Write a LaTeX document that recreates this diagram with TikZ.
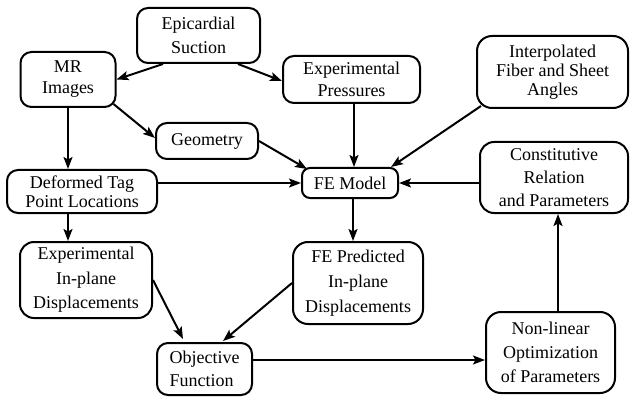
\documentclass[tikz,border=0pt]{standalone}
\usepackage{fontspec}
\setmainfont{Liberation Serif}
\usetikzlibrary{arrows.meta,calc}
\begin{document}
\begin{tikzpicture}[x=1pt,y=-1pt,
  box/.style={draw,line width=2pt,rounded corners=11pt,align=center,inner sep=0pt,font=\fontsize{18}{23}\selectfont},
  arr/.style={line width=2pt,-{Stealth[length=12pt,width=9pt,inset=2.5pt]}}]
\useasboundingbox (0,0) rectangle (631,398);
\node[box,minimum width=123pt,minimum height=55pt,font=\fontsize{18}{24}\selectfont] (epi) at (198.5,35.5) {Epicardial\\Suction};
\node[box,minimum width=95pt,minimum height=55pt,font=\fontsize{18}{21}\selectfont] (mr) at (68,79.5) {MR\\Images};
\node[box,minimum width=137pt,minimum height=47pt,font=\fontsize{18}{22}\selectfont] (pres) at (351.5,79.5) {Experimental\\Pressures};
\node[box,minimum width=102pt,minimum height=36pt] (geo) at (207,141) {Geometry};
\node[box,minimum width=151pt,minimum height=72pt,rounded corners=15pt,font=\fontsize{18}{19}\selectfont] (fib) at (552.5,72) {Interpolated\\Fiber and Sheet\\Angles};
\node[box,minimum width=96pt,minimum height=30pt,rounded corners=8pt] (fe) at (350,183) {FE Model};
\node[box,minimum width=150pt,minimum height=43pt,font=\fontsize{18}{19}\selectfont] (tag) at (82,191.5) {Deformed Tag\\Point Locations};
\node[box,minimum width=148pt,minimum height=71pt,rounded corners=14pt] (con) at (554,177.5) {Constitutive\\Relation\\and Parameters};
\node[box,minimum width=132pt,minimum height=76pt,rounded corners=14pt,font=\fontsize{18}{24.5}\selectfont] (exp) at (86,280) {Experimental\\In-plane\\Displacements};
\node[box,minimum width=130pt,minimum height=82pt,rounded corners=15pt,font=\fontsize{18}{25}\selectfont] (pred) at (358,283) {FE Predicted\\In-plane\\Displacements};
\node[box,minimum width=95pt,minimum height=52pt,align=left] (obj) at (204.5,369) {Objective\\Function};
\node[box,minimum width=129pt,minimum height=81pt,rounded corners=15pt,font=\fontsize{18}{24}\selectfont] (opt) at (550.5,352.5) {Non-linear\\Optimization\\of Parameters};
% anchor points on borders
\coordinate (presS) at ($(pres.south)+(2.5,0)$);
\coordinate (tagS) at ($(tag.south)+(-14,0)$);
\coordinate (feS) at ($(fe.south)+(3,0)$);
\coordinate (objE) at ($(obj.east)+(0,-9)$);
\coordinate (optN) at ($(opt.north)+(7.5,0)$);
% connectors
\draw[arr] ($(epi.south)+(-35.5,0)$) -- (mr.east);
\draw[arr] ($(epi.south)+(39.5,0)$) -- ($(pres.west)+(0,1.5)$);
\draw[arr] ($(mr.south east)+(-3,-4)$) -- ($(geo.west)+(0,-3)$);
\draw[arr] (mr.south) -- (mr.south |- tag.north);
\draw[arr] (geo.east) -- ($(fe.north west)+(6,2)$);
\draw[arr] (presS) -- (presS |- fe.north);
\draw[arr] ($(fib.south west)+(5,-3)$) -- ($(fe.north east)+(-8,0)$);
\draw[arr] (con.west |- fe.east) -- (fe.east);
\draw[arr] (tag.east |- fe.west) -- (fe.west);
\draw[arr] (tagS) -- (tagS |- exp.north);
\draw[arr] (feS) -- (feS |- pred.north);
\draw[arr] (exp.east) -- ($(obj.north)+(-21.5,-3)$);
\draw[arr] (pred.west) -- ($(obj.north)+(18.5,-1)$);
\draw[arr] (objE) -- (objE -| opt.west);
\draw[arr] (optN) -- (optN |- con.south);
\end{tikzpicture}
\end{document}
